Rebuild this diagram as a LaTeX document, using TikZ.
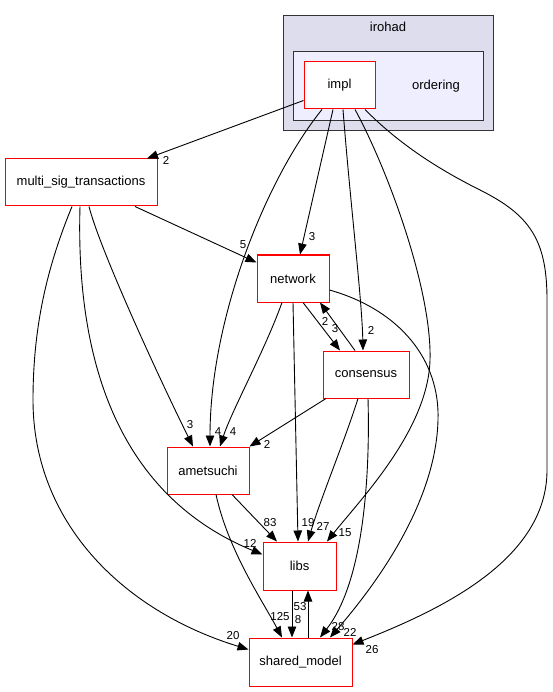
\documentclass[tikz,border=0pt]{standalone}
\usepackage{fontspec}
\setmainfont{Liberation Sans}
\usepackage{xcolor}
\usetikzlibrary{arrows.meta}
\definecolor{outerfill}{HTML}{DDDDEE}
\definecolor{innerfill}{HTML}{EEEEFF}
\definecolor{clframe}{HTML}{333333}

\begin{document}
\begin{tikzpicture}[x=1pt,y=-1pt,
  dirnode/.style={draw=red,fill=white,line width=1pt,minimum height=47pt,inner sep=0pt,font=\fontsize{13}{15}\selectfont},
  cluster/.style={draw=clframe,line width=1pt},
  dep/.style={line width=0.9pt,-{Triangle[length=11pt,width=8.5pt]}},
  elabel/.style={inner sep=0pt,font=\fontsize{11.5}{13}\selectfont}]
  \useasboundingbox (0,0) rectangle (553,692);
  \draw[cluster,fill=outerfill] (283,16) rectangle (493,131);
  \node[inner sep=0pt,font=\fontsize{13}{15}\selectfont] (irohadlbl) at (388,27) {irohad};
  \draw[cluster,fill=innerfill] (293,52) rectangle (483,121);
  \node[inner sep=0pt,font=\fontsize{13}{15}\selectfont] (orderinglbl) at (436,86) {ordering};
  \node[dirnode,minimum width=71pt] (impl) at (339.5,85.5) {impl};
  \node[dirnode,minimum width=152pt] (msig) at (81,182.5) {multi\_sig\_transactions};
  \node[dirnode,minimum width=72pt] (network) at (293,278.5) {network};
  \node[dirnode,minimum width=86pt] (consensus) at (366,374.5) {consensus};
  \node[dirnode,minimum width=82pt] (ametsuchi) at (208,470.5) {ametsuchi};
  \node[dirnode,minimum width=73pt,minimum height=48pt] (libs) at (299.5,566) {libs};
  \node[dirnode,minimum width=103pt,minimum height=48pt] (shared) at (300.5,662) {shared\_model};

  \draw[dep] ([yshift=-15pt]impl.west) -- ([xshift=66pt]msig.north);
  \node[elabel] (l-impl-msig) at (166,160) {2};
  \draw[dep] ([xshift=-6.5pt]impl.south) -- ([xshift=7pt]network.north);
  \node[elabel] (l-impl-net) at (312,237) {3};
  \draw[dep] ([xshift=-17.5pt]impl.south) .. controls (265,180) and (210,320) .. ([xshift=2pt]ametsuchi.north);
  \node[elabel] (l-impl-amet) at (218,432) {4};
  \draw[dep] ([xshift=3.5pt]impl.south) .. controls (350,200) and (362,300) .. ([xshift=-3pt]consensus.north);
  \node[elabel] (l-impl-cons) at (371,330) {2};
  \draw[dep] ([xshift=15.5pt]impl.south) .. controls (388,170) and (432,290) .. (430,360) .. controls (428,430) and (360,500) .. ([xshift=27.5pt]libs.north);
  \node[elabel] (l-impl-libs) at (345,533) {15};
  \draw[dep] ([xshift=25.5pt]impl.south) .. controls (400,145) and (440,170) .. (480,190) .. controls (530,215) and (547,240) .. (547,300) -- (547,470) .. controls (547,560) and (440,610) .. ([yshift=-7pt]shared.north east);
  \node[elabel] (l-impl-shm) at (372,650) {26};

  \draw[dep] ([xshift=54pt]msig.south) -- ([yshift=-8pt]network.north west);
  \node[elabel] (l-msig-net) at (243,245) {5};
  \draw[dep] ([xshift=8pt]msig.south) .. controls (100,250) and (160,380) .. ([xshift=-15pt]ametsuchi.north);
  \node[elabel] (l-msig-amet) at (190,425) {3};
  \draw[dep] ([xshift=-1pt]msig.south) .. controls (75,380) and (130,500) .. ([yshift=-13pt]libs.north west);
  \node[elabel] (l-msig-libs) at (250,543) {12};
  \draw[dep] ([xshift=-9pt]msig.south) .. controls (50,260) and (33,320) .. (33,400) .. controls (33,520) and (120,610) .. ([yshift=-12pt]shared.north west);
  \node[elabel] (l-msig-shm) at (233,636) {20};

  \draw[dep] ([xshift=10pt]network.south) -- ([xshift=-26pt]consensus.north);
  \node[elabel] (l-net-cons) at (335,329) {3};
  \draw[dep] ([xshift=-11pt]consensus.north) -- ([xshift=27pt]network.south);
  \node[elabel] (l-cons-net) at (325,321) {2};
  \draw[dep] ([xshift=-11pt]network.south) .. controls (265,350) and (232,410) .. ([xshift=12pt]ametsuchi.north);
  \node[elabel] (l-net-amet) at (233,432) {4};
  \draw[dep] (network.south) -- ([xshift=-1.5pt]libs.north);
  \node[elabel] (l-net-libs) at (308,523) {19};
  \draw[dep] ([yshift=-11.5pt]network.east) .. controls (400,310) and (440,360) .. (438,420) .. controls (436,500) and (380,580) .. ([xshift=29.5pt]shared.north);
  \node[elabel] (l-net-shm) at (350,632) {22};

  \draw[dep] ([xshift=-40pt]consensus.south) -- (ametsuchi.north east);
  \node[elabel] (l-cons-amet) at (267,444) {2};
  \draw[dep] ([xshift=-8pt]consensus.south) .. controls (345,440) and (320,500) .. ([xshift=8.5pt]libs.north);
  \node[elabel] (l-cons-libs) at (323,526) {27};
  \draw[dep] ([xshift=2pt]consensus.south) .. controls (370,470) and (365,580) .. ([xshift=19.5pt]shared.north);
  \node[elabel] (l-cons-shm) at (338,627) {28};

  \draw[dep] ([xshift=24pt]ametsuchi.south) -- ([xshift=-22.5pt]libs.north);
  \node[elabel] (l-amet-libs) at (270,523) {83};
  \draw[dep] ([xshift=8pt]ametsuchi.south) .. controls (228,550) and (262,600) .. ([xshift=-18.5pt]shared.north);
  \node[elabel] (l-amet-shm) at (280,617) {125};

  \draw[dep] ([xshift=-7.5pt]libs.south) -- ([xshift=-8.5pt]shared.north);
  \node[elabel] (l-libs-shm) at (298,620) {8};
  \draw[dep] ([xshift=7.5pt]shared.north) -- ([xshift=8.5pt]libs.south);
  \node[elabel] (l-shm-libs) at (300,607) {53};
\end{tikzpicture}
\end{document}
